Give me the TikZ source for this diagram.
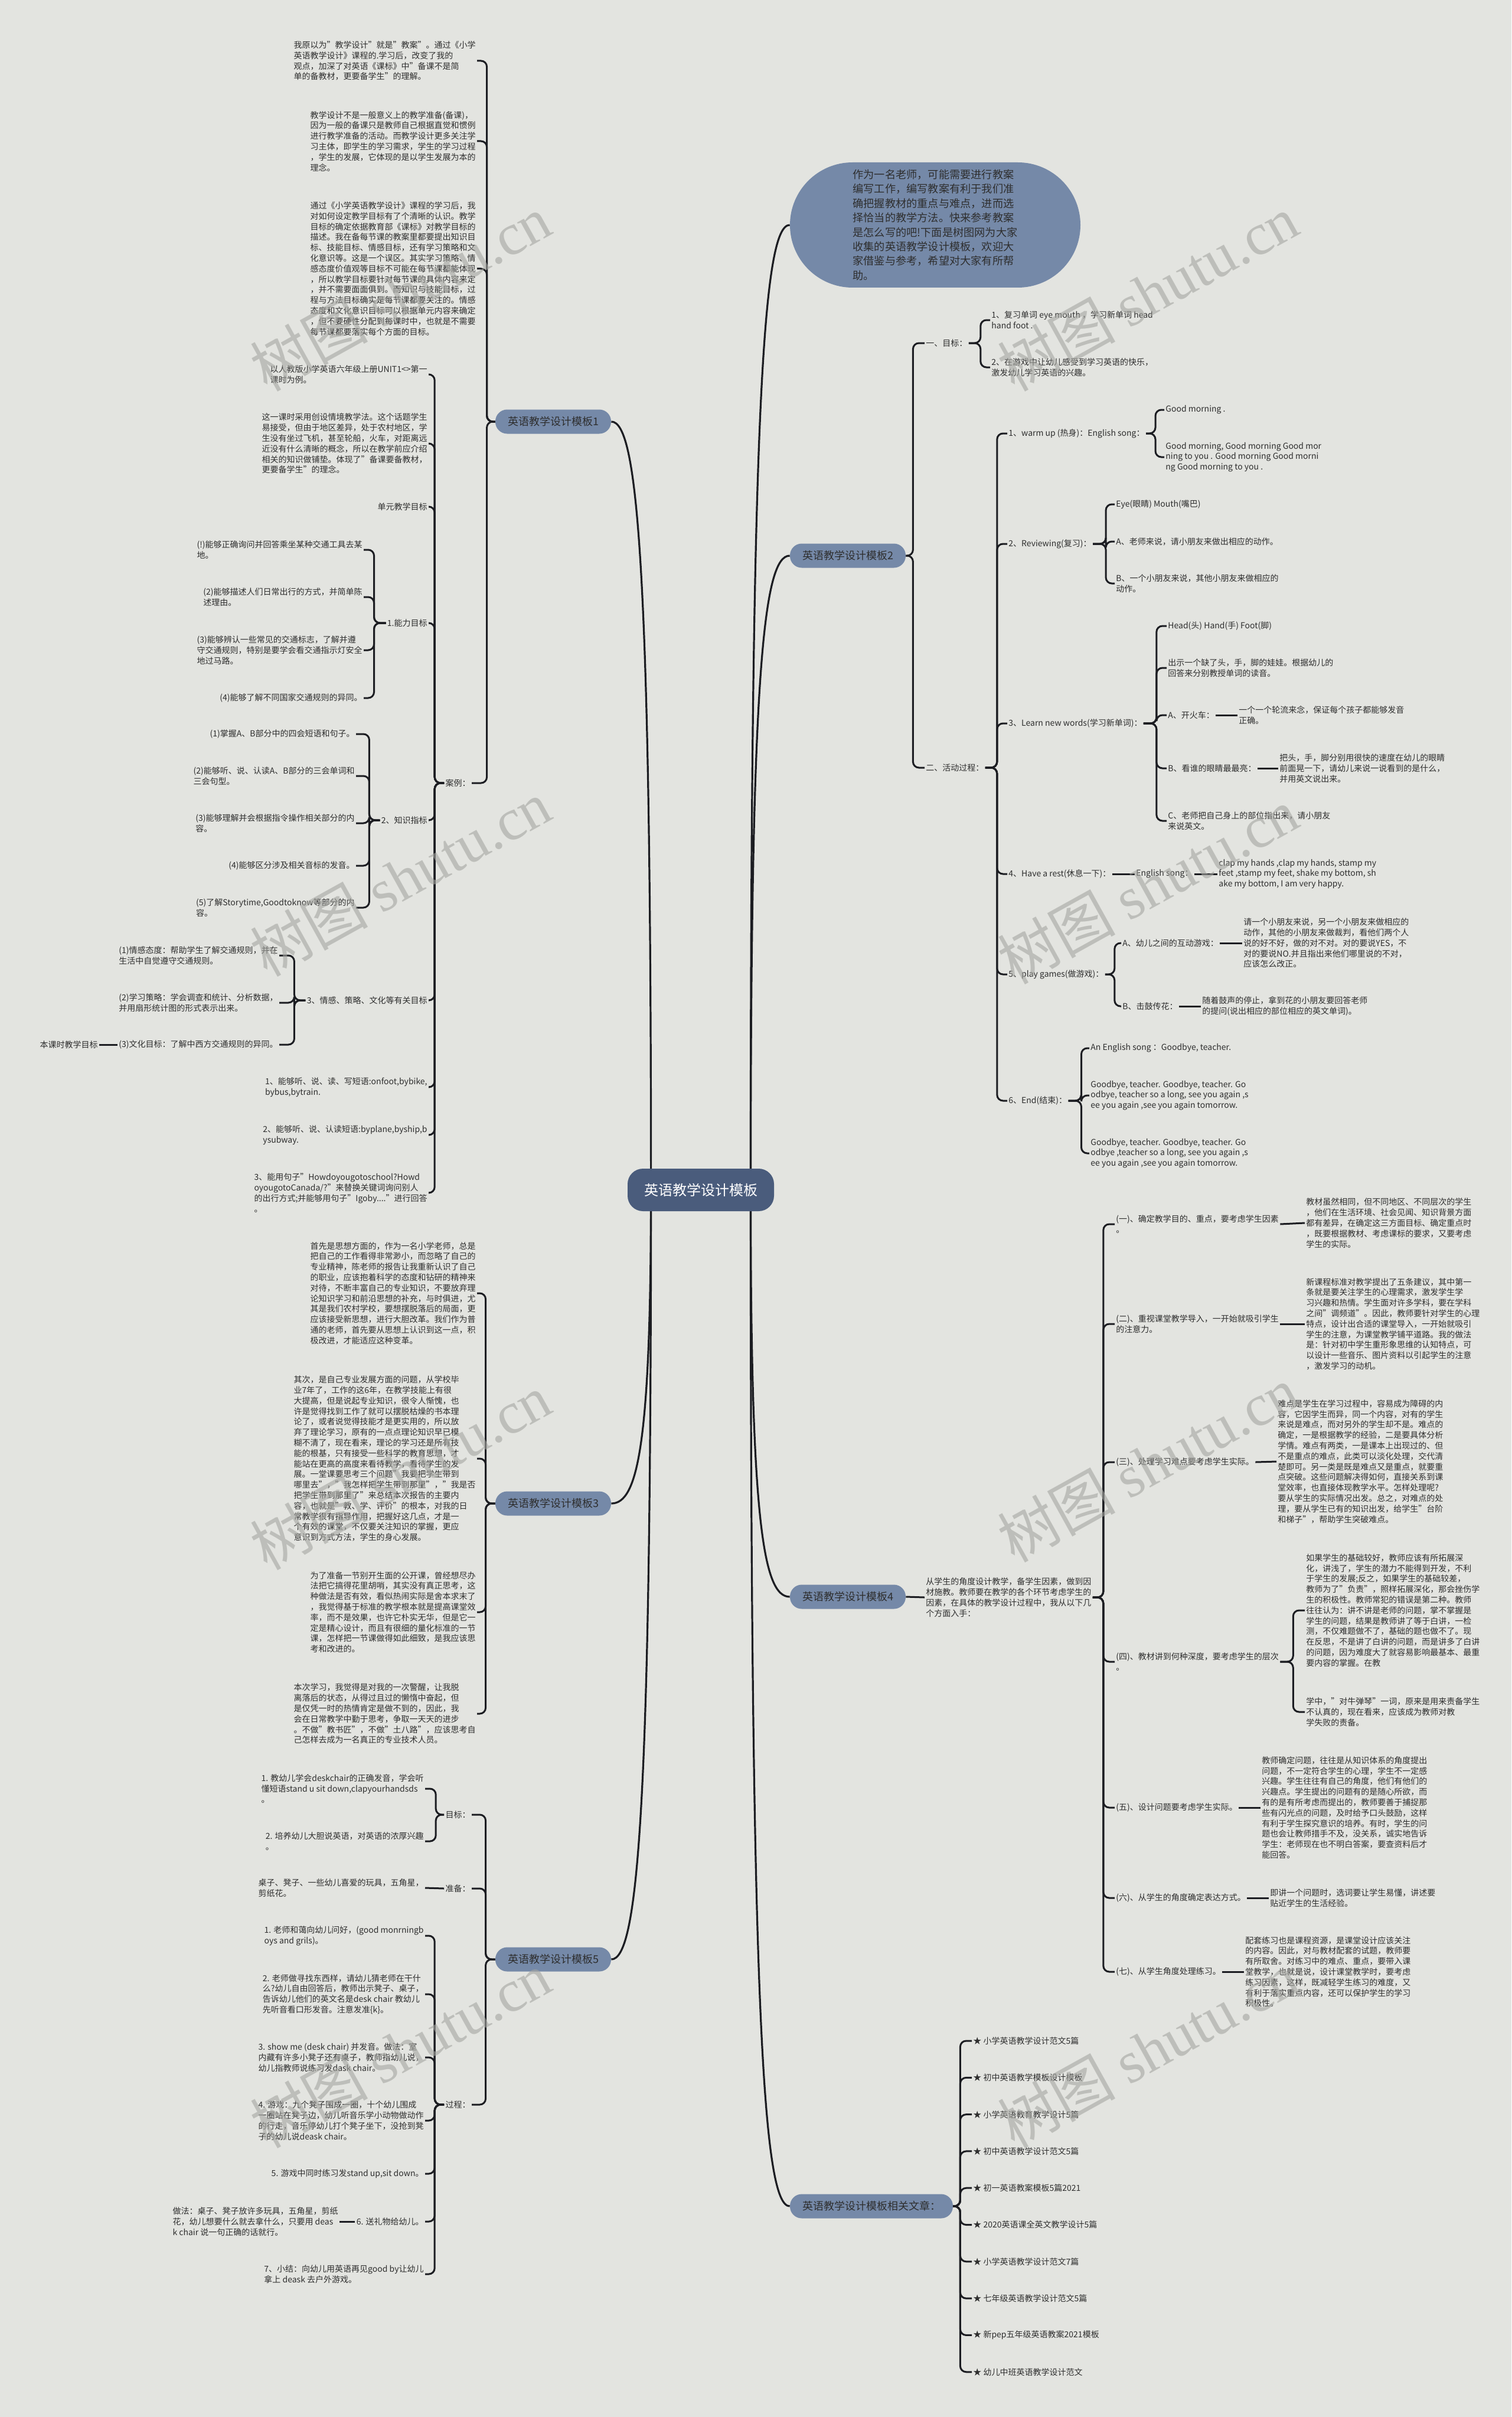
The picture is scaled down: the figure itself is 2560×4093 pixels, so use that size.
\documentclass[tikz,border=0pt]{standalone}
\usepackage{fontspec}
\setmainfont{Noto Sans CJK SC}
\newfontfamily\wmserif{Liberation Serif}
\usetikzlibrary{backgrounds}
\definecolor{paper}{HTML}{E3E4E0}
\definecolor{rootc}{HTML}{4A5C7C}
\definecolor{topicc}{HTML}{7589A8}
\definecolor{inkc}{HTML}{2E2E2E}
\definecolor{linec}{HTML}{1C1D22}
\definecolor{markc}{HTML}{A5A6A1}
\tikzset{
  note/.style={font=\fontsize{7}{8.9}\selectfont,text=inkc,align=left,inner sep=1pt},
  notel/.style={note,anchor=east},
  noter/.style={note,anchor=west},
  topic/.style={fill=topicc,rounded corners=10pt,font=\fontsize{9}{11}\selectfont,text=inkc,minimum width=98pt,minimum height=20.5pt,inner xsep=8pt},
  root/.style={fill=rootc,rounded corners=13pt,font=\fontsize{12}{14}\selectfont,text=white,minimum width=124pt,minimum height=36pt},
  bubble/.style={fill=topicc,rounded corners=53pt,minimum width=246pt,minimum height=106pt,font=\fontsize{9.1}{12.2}\selectfont,text=inkc,align=left},
  link/.style={draw=linec,line width=1.5pt,rounded corners=5pt},
  branch/.style={draw=linec,line width=1.6pt},
  wmark/.style={rotate=29,font=\fontsize{50}{50}\selectfont,text=markc,opacity=0.6}
}
\begin{document}
\begin{tikzpicture}[x=0.5pt,y=-0.5pt]
  \useasboundingbox (0,0) rectangle (2560,4093);
  \begin{scope}[on background layer]
    \fill[paper] (0,0) rectangle (2560,4093);
  \end{scope}

  \node[root] (root) at (1187,2015) {英语教学设计模板};

  % 模板1
  \node[topic] (m1) at (937,714) {英语教学设计模板1};
  \node[notel] (a1) at (808,103) {我原以为"教学设计"就是"教案"。通过《小学\\英语教学设计》课程的.学习后，改变了我的\\观点，加深了对英语《课标》中"备课不是简\\单的备教材，更要备学生"的理解。};
  \node[notel] (a2) at (808,239) {教学设计不是一般意义上的教学准备(备课)，\\因为一般的备课只是教师自己根据直觉和惯例\\进行教学准备的活动。而教学设计更多关注学\\习主体，即学生的学习需求，学生的学习过程\\，学生的发展，它体现的是以学生发展为本的\\理念。};
  \node[notel] (a3) at (808,455) {通过《小学英语教学设计》课程的学习后，我\\对如何设定教学目标有了个清晰的认识。教学\\目标的确定依据教育部《课标》对教学目标的\\描述。我在备每节课的教案里都要提出知识目\\标、技能目标、情感目标，还有学习策略和文\\化意识等。这是一个误区。其实学习策略、情\\感态度价值观等目标不可能在每节课都能体现\\，所以教学目标要针对每节课的具体内容来定\\，并不需要面面俱到。而知识与技能目标，过\\程与方法目标确实是每节课都要关注的。情感\\态度和文化意识目标可以根据单元内容来确定\\，但不要硬性分配到每课时中，也就是不需要\\每节课都要落实每个方面的目标。};
  \node[notel] (anli) at (799,1326) {案例：};
  \foreach \c in {a1,a2,a3,anli} \draw[link] (m1.west) -- ++(-14,0) |- (\c.east);

  \node[notel] (k1) at (726,634) {以人教版小学英语六年级上册UNIT1<>第一\\课时为例。};
  \node[notel] (k2) at (726,751) {这一课时采用创设情境教学法。这个话题学生\\易接受，但由于地区差异，处于农村地区，学\\生没有坐过飞机，甚至轮船，火车，对距离远\\近没有什么清晰的概念，所以在教学前应介绍\\相关的知识做铺垫。体现了"备课要备教材，\\更要备学生"的理念。};
  \node[notel] (k3) at (726,858) {单元教学目标};
  \node[notel] (k4) at (726,1055) {1.能力目标};
  \node[notel] (k5) at (726,1389) {2、知识指标};
  \node[notel] (k6) at (726,1694) {3、情感、策略、文化等有关目标};
  \node[notel] (k7) at (726,1841) {1、能够听、说、读、写短语:onfoot,bybike,\\bybus,bytrain.};
  \node[notel] (k8) at (726,1922) {2、能够听、说、认读短语:byplane,byship,b\\ysubway.};
  \node[notel] (k9) at (726,2020) {3、能用句子"Howdoyougotoschool?Howd\\oyougotoCanada/?"来替换关键词询问别人\\的出行方式;并能够用句子"Igoby...."进行回答\\。};
  \foreach \i in {1,...,9} \draw[link] (anli.west) -- ++(-16,0) |- (k\i.east);

  \node[notel] (n1) at (616,931) {(!)能够正确询问并回答乘坐某种交通工具去某\\地。};
  \node[notel] (n2) at (616,1011) {(2)能够描述人们日常出行的方式，并简单陈\\述理由。};
  \node[notel] (n3) at (616,1101) {(3)能够辨认一些常见的交通标志，了解并遵\\守交通规则，特别是要学会看交通指示灯安全\\地过马路。};
  \node[notel] (n4) at (616,1182) {(4)能够了解不同国家交通规则的异同。};
  \foreach \i in {1,...,4} \draw[link] (k4.west) -- ++(-20,0) |- (n\i.east);

  \node[notel] (z1) at (603,1243) {(1)掌握A、B部分中的四会短语和句子。};
  \node[notel] (z2) at (603,1314) {(2)能够听、说、认读A、B部分的三会单词和\\三会句型。};
  \node[notel] (z3) at (603,1394) {(3)能够理解并会根据指令操作相关部分的内\\容。};
  \node[notel] (z4) at (603,1466) {(4)能够区分涉及相关音标的发音。};
  \node[notel] (z5) at (603,1537) {(5)了解Storytime,Goodtoknow等部分的内\\容。};
  \foreach \i in {1,...,5} \draw[link] (k5.west) -- ++(-18,0) |- (z\i.east);

  \node[notel] (q1) at (473,1618) {(1)情感态度：帮助学生了解交通规则，并在\\生活中自觉遵守交通规则。};
  \node[notel] (q2) at (473,1698) {(2)学习策略：学会调查和统计、分析数据，\\并用扇形统计图的形式表示出来。};
  \node[notel] (q3) at (473,1769) {(3)文化目标：了解中西方交通规则的异同。};
  \foreach \i in {1,...,3} \draw[link] (k6.west) -- ++(-19,0) |- (q\i.east);
  \node[notel] (benke) at (168,1769) {本课时教学目标};
  \draw[link] (q3.west) -- (benke.east);

  % 模板3
  \node[topic] (m3) at (937,2546) {英语教学设计模板3};
  \node[notel] (b1) at (808,2190) {首先是思想方面的，作为一名小学老师，总是\\把自己的工作看得非常渺小，而忽略了自己的\\专业精神，陈老师的报告让我重新认识了自己\\的职业，应该抱着科学的态度和钻研的精神来\\对待，不断丰富自己的专业知识，不要放弃理\\论知识学习和前沿思想的补充，与时俱进，尤\\其是我们农村学校，要想摆脱落后的局面，更\\应该接受新思想，进行大胆改革。我们作为普\\通的老师，首先要从思想上认识到这一点，积\\极改进，才能适应这种变革。};
  \node[notel] (b2) at (808,2470) {其次，是自己专业发展方面的问题，从学校毕\\业7年了，工作的这6年，在教学技能上有很\\大提高，但是说起专业知识，很令人惭愧，也\\许是觉得找到工作了就可以摆脱枯燥的书本理\\论了，或者说觉得技能才是更实用的，所以放\\弃了理论学习，原有的一点点理论知识早已模\\糊不清了，现在看来，理论的学习还是所有技\\能的根基，只有接受一些科学的教育思想，才\\能站在更高的高度来看待教学，看待学生的发\\展。一堂课要思考三个问题"我要把学生带到\\哪里去"，"我怎样把学生带到那里"，"我是否\\把学生带到那里了"来总结本次报告的主要内\\容，也就是"教、学、评价"的根本，对我的日\\常教学很有指导作用，把握好这几点，才是一\\个有效的课堂，不仅要关注知识的掌握，更应\\意识到方式方法，学生的身心发展。};
  \node[notel] (b3) at (808,2730) {为了准备一节别开生面的公开课，曾经想尽办\\法把它搞得花里胡哨，其实没有真正思考，这\\种做法是否有效，看似热闹实际是舍本求末了\\，我觉得基于标准的教学根本就是提高课堂效\\率，而不是效果，也许它朴实无华，但是它一\\定是精心设计，而且有很细的量化标准的一节\\课，怎样把一节课做得如此细致，是我应该思\\考和改进的。};
  \node[notel] (b4) at (808,2902) {本次学习，我觉得是对我的一次警醒，让我脱\\离落后的状态，从得过且过的懒惰中奋起，但\\是仅凭一时的热情肯定是做不到的，因此，我\\会在日常教学中勤于思考，争取一天天的进步\\。不做"教书匠"，不做"土八路"，应该思考自\\己怎样去成为一名真正的专业技术人员。};
  \foreach \i in {1,...,4} \draw[link] (m3.west) -- ++(-16,0) |- (b\i.east);

  % 模板5
  \node[topic] (m5) at (937,3318) {英语教学设计模板5};
  \node[notel] (goal) at (799,3073) {目标：};
  \node[notel] (prep) at (799,3198) {准备：};
  \node[notel] (proc) at (799,3564) {过程：};
  \foreach \c in {goal,prep,proc} \draw[link] (m5.west) -- ++(-16,0) |- (\c.east);
  \node[notel] (g1) at (720,3029) {1. 教幼儿学会deskchair的正确发音，学会听\\懂短语stand u sit down,clapyourhandsds\\。};
  \node[notel] (g2) at (720,3118) {2. 培养幼儿大胆说英语，对英语的浓厚兴趣\\。};
  \foreach \c in {g1,g2} \draw[link] (goal.west) -- ++(-14,0) |- (\c.east);
  \node[notel] (prep1) at (720,3197) {桌子、凳子、一些幼儿喜爱的玩具，五角星，\\剪纸花。};
  \draw[link] (prep.west) -- (prep1.east);
  \node[notel] (p1) at (720,3278) {1. 老师和蔼向幼儿问好，(good monrningb\\oys and grils)。};
  \node[notel] (p2) at (720,3377) {2. 老师做寻找东西样，请幼儿猜老师在干什\\么?幼儿自由回答后，教师出示凳子、桌子，\\告诉幼儿他们的英文名是desk chair 教幼儿\\先听音看口形发音。注意发准\{k\}。};
  \node[notel] (p3) at (720,3484) {3. show me (desk chair) 并发音。做法：室\\内藏有许多小凳子还有桌子，教师指幼儿说，\\幼儿指教师说练习发dask chair。};
  \node[notel] (p4) at (720,3591) {4. 游戏：九个凳子围成一圈，十个幼儿围成\\一圈站在凳子边，幼儿听音乐学小动物做动作\\的行走，音乐停幼儿打个凳子坐下，没抢到凳\\子的幼儿说deask chair。};
  \node[notel] (p5) at (720,3681) {5. 游戏中同时练习发stand up,sit down。};
  \node[notel] (p6) at (720,3762) {6. 送礼物给幼儿。};
  \node[notel] (p7) at (720,3851) {7、小结：向幼儿用英语再见good by让幼儿\\拿上 deask 去户外游戏。};
  \foreach \i in {1,...,7} \draw[link] (proc.west) -- ++(-16,0) |- (p\i.east);
  \node[notel] (p6a) at (575,3762) {做法：桌子、凳子放许多玩具，五角星，剪纸\\花，幼儿想要什么就去拿什么，只要用 deas\\k chair 说一句正确的话就行。};
  \draw[link] (p6.west) -- (p6a.east);

  % 导语
  \node[bubble] (intro) at (1584,381) {作为一名老师，可能需要进行教案\\编写工作，编写教案有利于我们准\\确把握教材的重点与难点，进而选\\择恰当的教学方法。快来参考教案\\是怎么写的吧!下面是树图网为大家\\收集的英语教学设计模板，欢迎大\\家借鉴与参考，希望对大家有所帮\\助。};

  % 模板2
  \node[topic] (m2) at (1436,941) {英语教学设计模板2};
  \node[noter] (t1) at (1566,581) {一、目标：};
  \node[noter] (t2) at (1566,1300) {二、活动过程：};
  \foreach \c in {t1,t2} \draw[link] (m2.east) -- ++(12,0) |- (\c.west);
  \node[noter] (t11) at (1677,542) {1、复习单词 eye mouth ，学习新单词 head\\ hand foot .};
  \node[noter] (t12) at (1677,622) {2、在游戏中让幼儿感受到学习英语的快乐，\\激发幼儿学习英语的兴趣。};
  \foreach \c in {t11,t12} \draw[link] (t1.east) -- ++(20,0) |- (\c.west);
  \node[noter] (s1) at (1706,734) {1、warm up (热身)：English song：};
  \node[noter] (s2) at (1706,921) {2、Reviewing(复习)：};
  \node[noter] (s3) at (1706,1225) {3、Learn new words(学习新单词)：};
  \node[noter] (s4) at (1706,1480) {4、Have a rest(休息一下)：};
  \node[noter] (s5) at (1706,1650) {5、play games(做游戏)：};
  \node[noter] (s6) at (1706,1864) {6、End(结束)：};
  \foreach \i in {1,...,6} \draw[link] (t2.east) -- ++(20,0) |- (s\i.west);
  \node[noter] (w1) at (1972,694) {Good morning .};
  \node[noter] (w2) at (1972,774) {Good morning, Good morning Good mor\\ning to you . Good morning Good morni\\ng Good morning to you .};
  \foreach \c in {w1,w2} \draw[link] (s1.east) -- ++(16,0) |- (\c.west);
  \node[noter] (r1) at (1888,854) {Eye(眼睛) Mouth(嘴巴)};
  \node[noter] (r2) at (1888,917) {A、老师来说，请小朋友来做出相应的动作。};
  \node[noter] (r3) at (1888,988) {B、一个小朋友来说，其他小朋友来做相应的\\动作。};
  \foreach \c in {r1,r2,r3} \draw[link] (s2.east) -- ++(22,0) |- (\c.west);
  \node[noter] (l1) at (1976,1060) {Head(头) Hand(手) Foot(脚)};
  \node[noter] (l2) at (1976,1131) {出示一个缺了头，手，脚的娃娃。根据幼儿的\\回答来分别教授单词的读音。};
  \node[noter] (l3) at (1976,1211) {A、开火车：};
  \node[noter] (l4) at (1976,1301) {B、看谁的眼睛最最亮：};
  \node[noter] (l5) at (1976,1390) {C、老师把自己身上的部位指出来，请小朋友\\来说英文。};
  \foreach \i in {1,...,5} \draw[link] (s3.east) -- ++(22,0) |- (l\i.west);
  \node[noter] (l3a) at (2096,1211) {一个一个轮流来念，保证每个孩子都能够发音\\正确。};
  \draw[link] (l3.east) -- (l3a.west);
  \node[noter] (l4a) at (2165,1301) {把头，手，脚分别用很快的速度在幼儿的眼睛\\前面晃一下，请幼儿来说一说看到的是什么，\\并用英文说出来。};
  \draw[link] (l4.east) -- (l4a.west);
  \node[noter] (song) at (1922,1480) {English song：};
  \draw[link] (s4.east) -- (song.west);
  \node[noter] (songa) at (2062,1480) {clap my hands ,clap my hands, stamp my\\feet ,stamp my feet, shake my bottom, sh\\ake my bottom, I am very happy.};
  \draw[link] (song.east) -- (songa.west);
  \node[noter] (ga) at (1899,1597) {A、幼儿之间的互动游戏：};
  \node[noter] (gb) at (1899,1704) {B、击鼓传花：};
  \foreach \c in {ga,gb} \draw[link] (s5.east) -- ++(16,0) |- (\c.west);
  \node[noter] (gaa) at (2104,1597) {请一个小朋友来说，另一个小朋友来做相应的\\动作，其他的小朋友来做裁判，看他们两个人\\说的好不好，做的对不对。对的要说YES，不\\对的要说NO.并且指出来他们哪里说的不对，\\应该怎么改正。};
  \draw[link] (ga.east) -- (gaa.west);
  \node[noter] (gba) at (2034,1704) {随着鼓声的停止，拿到花的小朋友要回答老师\\的提问(说出相应的部位相应的英文单词)。};
  \draw[link] (gb.east) -- (gba.west);
  \node[noter] (d1) at (1845,1775) {An English song ：Goodbye, teacher.};
  \node[noter] (d2) at (1845,1855) {Goodbye, teacher. Goodbye, teacher. Go\\odbye, teacher so a long, see you again ,s\\ee you again ,see you again tomorrow.};
  \node[noter] (d3) at (1845,1953) {Goodbye, teacher. Goodbye, teacher. Go\\odbye ,teacher so a long, see you again ,s\\ee you again ,see you again tomorrow.};
  \foreach \i in {1,...,3} \draw[link] (s6.east) -- ++(22,0) |- (d\i.west);

  % 模板4
  \node[topic] (m4) at (1436,2704) {英语教学设计模板4};
  \node[noter] (f0) at (1566,2705) {从学生的角度设计教学，备学生因素，做到因\\材施教。教师要在教学的各个环节考虑学生的\\因素，在具体的教学设计过程中，我从以下几\\个方面入手：};
  \draw[link] (m4.east) -- (f0.west);
  \node[noter] (f1) at (1888,2073) {(一)、确定教学目的、重点，要考虑学生因素\\。};
  \node[noter] (f2) at (1888,2242) {(二)、重视课堂教学导入，一开始就吸引学生\\的注意力。};
  \node[noter] (f3) at (1888,2476) {(三)、处理学习难点要考虑学生实际。};
  \node[noter] (f4) at (1888,2814) {(四)、教材讲到何种深度，要考虑学生的层次\\。};
  \node[noter] (f5) at (1888,3061) {(五)、设计问题要考虑学生实际。};
  \node[noter] (f6) at (1888,3214) {(六)、从学生的角度确定表达方式。};
  \node[noter] (f7) at (1888,3339) {(七)、从学生角度处理练习。};
  \foreach \i in {1,...,7} \draw[link] (f0.east) -- ++(18,0) |- (f\i.west);
  \node[noter] (f1a) at (2210,2071) {教材虽然相同，但不同地区、不同层次的学生\\，他们在生活环境、社会见闻、知识背景方面\\都有差异，在确定这三方面目标、确定重点时\\，既要根据教材、考虑课标的要求，又要考虑\\学生的实际。};
  \node[noter] (f2a) at (2210,2242) {新课程标准对教学提出了五条建议，其中第一\\条就是要关注学生的心理需求，激发学生学\\习兴趣和热情。学生面对许多学科，要在学科\\之间"调频道"。因此，教师要针对学生的心理\\特点，设计出合适的课堂导入，一开始就吸引\\学生的注意，为课堂教学铺平道路。我的做法\\是：针对初中学生重形象思维的认知特点，可\\以设计一些音乐、图片资料以引起学生的注意\\，激发学习的动机。};
  \node[noter] (f3a) at (2162,2475) {难点是学生在学习过程中，容易成为障碍的内\\容，它因学生而异，同一个内容，对有的学生\\来说是难点，而对另外的学生却不是。难点的\\确定，一是根据教学的经验，二是要具体分析\\学情。难点有两类，一是课本上出现过的、但\\不是重点的难点，此类可以淡化处理，交代清\\楚即可。另一类是既是难点又是重点，就要重\\点突破。这些问题解决得如何，直接关系到课\\堂效率，也直接体现教学水平。怎样处理呢?\\要从学生的实际情况出发。总之，对难点的处\\理，要从学生已有的知识出发，给学生"台阶\\和梯子"，帮助学生突破难点。};
  \node[noter] (f4a) at (2210,2727) {如果学生的基础较好，教师应该有所拓展深\\化，讲浅了，学生的潜力不能得到开发，不利\\于学生的发展;反之，如果学生的基础较差，\\教师为了"负责"，照样拓展深化，那会挫伤学\\生的积极性。教师常犯的错误是第二种。教师\\往往认为：讲不讲是老师的问题，掌不掌握是\\学生的问题，结果是教师讲了等于白讲，一检\\测，不仅难题做不了，基础的题也做不了。现\\在反思，不是讲了白讲的问题，而是讲多了白讲\\的问题，因为难度大了就容易影响最基本、最重\\要内容的掌握。在教};
  \node[noter] (f4b) at (2210,2899) {学中，"对牛弹琴"一词，原来是用来责备学生\\不认真的，现在看来，应该成为教师对教\\学失败的责备。};
  \node[noter] (f5a) at (2135,3061) {教师确定问题，往往是从知识体系的角度提出\\问题，不一定符合学生的心理，学生不一定感\\兴趣。学生往往有自己的角度，他们有他们的\\兴趣点。学生提出的问题有的是随心所欲，而\\有的是有所考虑而提出的，教师要善于捕捉那\\些有闪光点的问题，及时给予口头鼓励，这样\\有利于学生探究意识的培养。有时，学生的问\\题也会让教师措手不及，没关系，诚实地告诉\\学生：老师现在也不明白答案，要查资料后才\\能回答。};
  \node[noter] (f6a) at (2149,3214) {即讲一个问题时，选词要让学生易懂，讲述要\\贴近学生的生活经验。};
  \node[noter] (f7a) at (2107,3339) {配套练习也是课程资源，是课堂设计应该关注\\的内容。因此，对与教材配套的试题，教师要\\有所取舍。对练习中的难点、重点，要带入课\\堂教学，也就是说，设计课堂教学时，要考虑\\练习因素，这样，既减轻学生练习的难度，又\\有利于落实重点内容，还可以保护学生的学习\\积极性。};
  \foreach \i in {1,2,3,5,6,7} \draw[link] (f\i.east) -- (f\i a.west);
  \foreach \c in {f4a,f4b} \draw[link] (f4.east) -- ++(22,0) |- (\c.west);

  % 相关文章
  \node[topic,minimum width=138pt] (rel) at (1476,3736) {英语教学设计模板相关文章：};
  \foreach \t [count=\i] in {小学英语教学设计范文5篇,初中英语教学模板设计模板,小学英语教育教学设计5篇,初中英语教学设计范文5篇,初一英语教案模板5篇2021,2020英语课全英文教学设计5篇,小学英语教学设计范文7篇,七年级英语教学设计范文5篇,新pep五年级英语教案2021模板,幼儿中班英语教学设计范文}
    \node[noter] (r\i) at (1646,{3456+(\i-1)*62.3}) {★ \t};
  \foreach \i in {1,...,10} \draw[link] (rel.east) -- ++(12,0) |- (r\i.west);

  \begin{scope}[on background layer]
    \draw[branch] ([xshift=20pt]root.west) .. controls +(0,-1050) and +(45,0) .. (m1.east);
    \draw[branch] ([xshift=20pt]root.west) .. controls +(0,430) and +(45,0) .. (m3.east);
    \draw[branch] ([xshift=20pt]root.west) .. controls +(0,1050) and +(45,0) .. (m5.east);
    \draw[branch] ([xshift=-20pt]root.east) .. controls +(0,-1320) and +(-45,0) .. (intro.west);
    \draw[branch] ([xshift=-20pt]root.east) .. controls +(0,-870) and +(-45,0) .. (m2.west);
    \draw[branch] ([xshift=-20pt]root.east) .. controls +(0,560) and +(-45,0) .. (m4.west);
    \draw[branch] ([xshift=-20pt]root.east) .. controls +(0,1390) and +(-45,0) .. (rel.west);
  \end{scope}

  \foreach \px/\py [count=\i] in {678/496,1944/496,678/1487,1944/1500,678/2492,1944/2479,678/3471,1944/3471}
    \node[wmark] (wm\i) at (\px,\py) {树图 {\wmserif shutu.cn}};
\end{tikzpicture}
\end{document}
